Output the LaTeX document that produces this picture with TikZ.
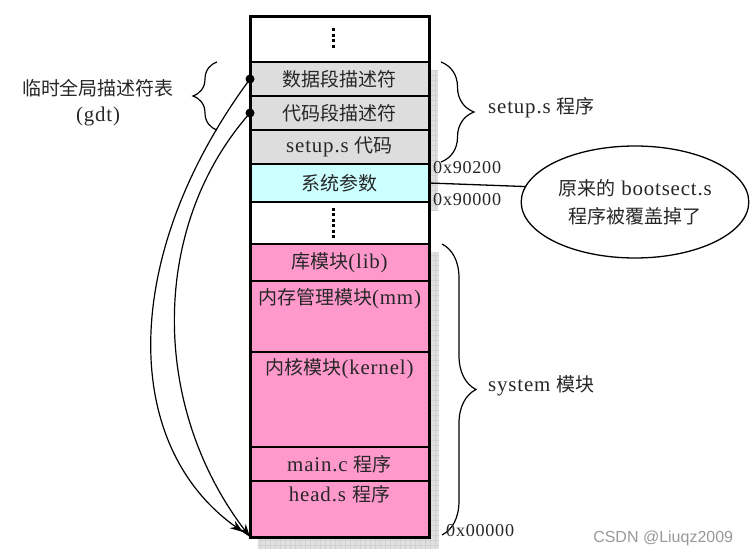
\documentclass[tikz,border=0pt]{standalone}
\usepackage{tikz}
\usetikzlibrary{shapes.geometric, positioning}
\usetikzlibrary{decorations.pathreplacing}
\usetikzlibrary{arrows.meta}
\usetikzlibrary{backgrounds}
\usepackage{fontspec}
\setmainfont{Liberation Serif}[Scale=1.1, LetterSpace=4]
\newfontfamily\zh{Noto Sans CJK SC}
\newfontfamily\wmfont{Liberation Sans}
\definecolor{GRAYSEG}{RGB}{221,221,221}
\definecolor{CYANSEG}{RGB}{204,255,255}
\definecolor{PINKSEG}{RGB}{255,153,204}
\definecolor{SHADOW}{RGB}{224,224,224}

\tikzset{
  memrow/.style={draw, line width=1.3pt, minimum width=179pt, inner sep=0pt, outer sep=0pt,
    text=black!85, font=\fontsize{19}{22}\selectfont},
  rowtext/.style={inner sep=0pt, text=black!85, font=\fontsize{19}{26}\selectfont},
  hexaddr/.style={anchor=west, inner sep=0pt, text=black!85, font=\fontsize{16.5}{24}\selectfont},
  curly/.style={decorate, decoration={brace, amplitude=#1}, line width=1.2pt},
  gdtdot/.style={circle, fill, inner sep=0pt, minimum size=9pt},
  gdtarrow/.style={-{Stealth[length=13pt, width=9pt]}, line width=1.2pt},
  vdots/.style={line width=3pt, dash pattern=on 3pt off 2.5pt},
}

\begin{document}
\begin{tikzpicture}[x=1pt, y=-1pt]
\useasboundingbox (0,0) rectangle (753,556);

% memory column
\node[memrow, fill=white, minimum height=45pt, anchor=north] (topdots) at (339.5,17) {};
\node[memrow, fill=GRAYSEG, minimum height=34pt, below=0pt of topdots] (dataseg) {\zh 数据段描述符};
\node[memrow, fill=GRAYSEG, minimum height=34pt, below=0pt of dataseg] (codeseg) {\zh 代码段描述符};
\node[memrow, fill=GRAYSEG, minimum height=34pt, below=0pt of codeseg] (setupcode) {setup.s {\zh 代码}};
\node[memrow, fill=CYANSEG, minimum height=38pt, below=0pt of setupcode] (sysparam) {\zh 系统参数};
\node[memrow, fill=white, minimum height=42pt, below=0pt of sysparam] (middots) {};
\node[memrow, fill=PINKSEG, minimum height=37pt, below=0pt of middots] (libmod) {{\zh 库模块}(lib)};
\node[memrow, fill=PINKSEG, minimum height=71pt, below=0pt of libmod] (mmmod) {};
\node[memrow, fill=PINKSEG, minimum height=95pt, below=0pt of mmmod] (kernmod) {};
\node[memrow, fill=PINKSEG, minimum height=34pt, below=0pt of kernmod] (mainc) {main.c {\zh 程序}};
\node[memrow, fill=PINKSEG, minimum height=56pt, below=0pt of mainc] (heads) {};
\node[rowtext, below=7pt of mmmod.north] (mmtext) {{\zh 内存管理模块}(mm)};
\node[rowtext, below=6pt of kernmod.north] (kerntext) {{\zh 内核模块}(kernel)};
\node[rowtext, below=4pt of heads.north] (headstext) {head.s {\zh 程序}};
\draw[line width=3pt] (topdots.north west) rectangle (heads.south east);

\draw[vdots] ([shift={(-6.5pt,11pt)}]topdots.center) -- ([shift={(-6.5pt,-9pt)}]topdots.center);
\draw[vdots] ([shift={(-6.5pt,15pt)}]middots.center) -- ([shift={(-6.5pt,-15pt)}]middots.center);

% shadow
\coordinate (shA1) at ([shift={(8pt,-8pt)}]dataseg.north west);
\coordinate (shA2) at ([shift={(9pt,-8pt)}]sysparam.south east);
\coordinate (shB1) at ([shift={(8pt,-8pt)}]libmod.north west);
\coordinate (shB2) at ([shift={(10pt,-12pt)}]heads.south east);
\begin{scope}[on background layer]
\foreach \a/\b in {shA1/shA2, shB1/shB2} {
  \fill[SHADOW] (\a) rectangle (\b);
  \draw[black!18, line width=0.4pt, step=5pt] (\a) grid (\b);
}
\end{scope}

% gdt pointers
\node[gdtdot] (datadot) at (dataseg.west) {};
\node[gdtdot] (codedot) at (codeseg.west) {};
\draw[gdtarrow] (datadot.center) .. controls (120,255) and (120,445) .. ([shift={(-7pt,5pt)}]heads.south west);
\draw[gdtarrow] (codedot.center) .. controls (150,226) and (150,406) .. (heads.south west);

% braces and labels
\draw[curly=24pt] ([xshift=-33pt]codeseg.south west) -- ([xshift=-33pt]dataseg.north west);
\node[rowtext, align=center] (gdtlabel) at (98,103) {{\zh 临时全局描述符表}\\(gdt)};
\draw[curly=33pt] ([xshift=12pt]dataseg.north east) -- ([shift={(12pt,2pt)}]setupcode.south east);
\node[rowtext, anchor=west] (setuplabel) at (488,108) {setup.s {\zh 程序}};
\draw[curly=34pt] ([xshift=13pt]libmod.north east) -- ([shift={(13pt,2pt)}]heads.south east);
\node[rowtext, anchor=west] (syslabel) at (488,386) {system {\zh 模块}};

\node[hexaddr] (addrhigh) at (433,168) {0x90200};
\node[hexaddr] (addrlow) at (433,200) {0x90000};
\node[hexaddr] (addrzero) at (446,531) {0x00000};

% overwritten bootsect
\node[ellipse, draw, line width=1.3pt, minimum width=200pt, minimum height=112pt, align=center,
  text=black!85, font=\fontsize{19}{28}\selectfont] (oldboot) at (635,202)
  {{\zh 原来的} bootsect.s\\{\zh 程序被覆盖掉了}};
\draw[line width=1.3pt] (sysparam.east) -- (oldboot.172);

\node[anchor=east, text=black!40, font=\wmfont\fontsize{16}{18}\selectfont] (watermark) at (737,538) {CSDN @Liuqz2009};
\end{tikzpicture}
\end{document}
